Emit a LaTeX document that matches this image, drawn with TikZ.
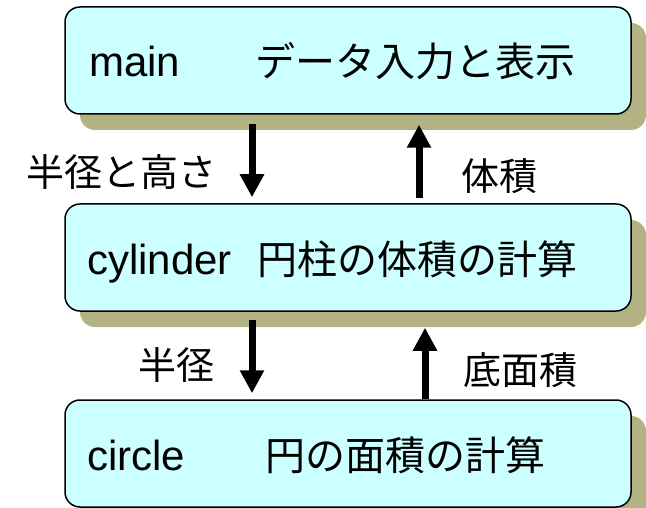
\documentclass[tikz,border=0pt]{standalone}
\usepackage{fontspec}
\setmainfont{Liberation Sans}
\newfontfamily\jp{Noto Sans CJK JP}
\usetikzlibrary{arrows.meta,shadows}
\definecolor{boxfill}{RGB}{204,255,255}
\definecolor{shadowc}{RGB}{178,178,132}
\begin{document}
\begin{tikzpicture}[x=1pt,y=-1pt,
  modbox/.style={draw=black,line width=1.5pt,fill=boxfill,rounded corners=15pt,
    minimum width=566pt,minimum height=107pt,inner sep=0pt,
    drop shadow={shadow xshift=15pt,shadow yshift=-16pt,fill=shadowc,opacity=1}},
  btxt/.style={anchor=base west,inner sep=0pt,font=\fontsize{42}{50}\selectfont},
  jtxt/.style={anchor=base west,inner sep=0pt,font=\fontsize{40}{48}\selectfont\jp},
  lbl/.style={anchor=center,inner sep=0pt,font=\fontsize{38}{46}\selectfont\jp},
  arr/.style={line width=7pt,-{Triangle[width=23pt,length=23pt]}}
]
\useasboundingbox (0,0) rectangle (646,508);
\node[modbox] (b1) at (348,60.5) {};
\node[modbox] (b2) at (348,257.5) {};
\node[modbox] (b3) at (348,453.5) {};

\node[btxt] (t1a) at (89,77) {main};
\node[jtxt] (t1b) at (255,77) {データ入力と表示};
\node[btxt] (t2a) at (87,274) {cylinder};
\node[jtxt] (t2b) at (257,274) {円柱の体積の計算};
\node[btxt] (t3a) at (87,470) {circle};
\node[jtxt] (t3b) at (265,470) {円の面積の計算};

\draw[arr] ([xshift=-96pt,yshift=-9pt]b1.south) -- ([xshift=-96pt,yshift=6pt]b2.north);
\draw[arr] ([xshift=71pt,yshift=5pt]b2.north) -- ([xshift=71pt,yshift=-10pt]b1.south);
\draw[arr] ([xshift=-96pt,yshift=-8pt]b2.south) -- ([xshift=-96pt,yshift=6pt]b3.north);
\draw[arr] ([xshift=77pt]b3.north) -- ([xshift=77pt,yshift=-16pt]b2.south);

\node[lbl] (l1) at (122,172) {半径と高さ};
\node[lbl] (l2) at (499,176) {体積};
\node[lbl] (l3) at (176,365) {半径};
\node[lbl] (l4) at (520,370) {底面積};
\end{tikzpicture}
\end{document}
